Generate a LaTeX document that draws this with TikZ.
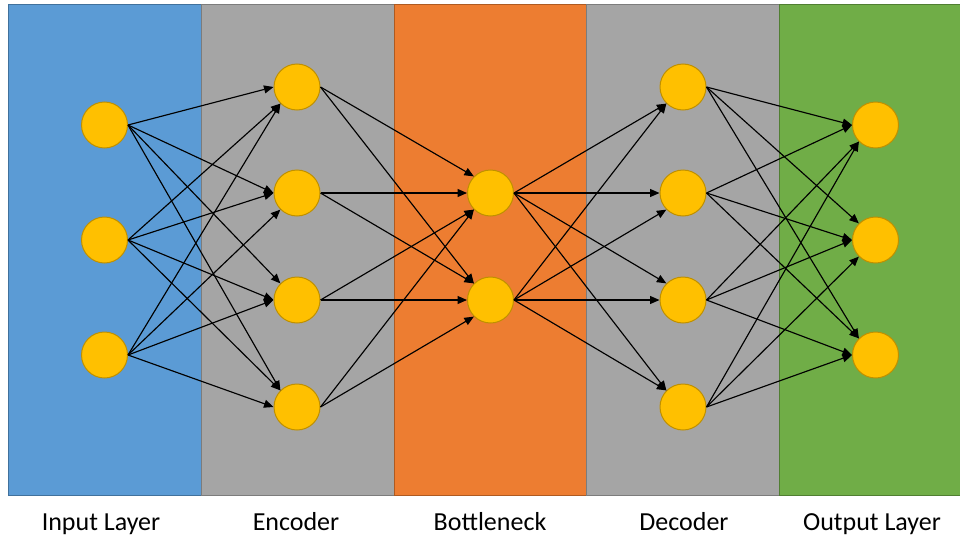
\documentclass[tikz,border=0pt]{standalone}
\usepackage{fontspec}
\setmainfont{Carlito}
\usetikzlibrary{arrows.meta}

\definecolor{inblue}{HTML}{5B9BD5}
\definecolor{inblueline}{HTML}{41719C}
\definecolor{midgray}{HTML}{A5A5A5}
\definecolor{midgrayline}{HTML}{7C7C7C}
\definecolor{neckorange}{HTML}{ED7D31}
\definecolor{neckorangeline}{HTML}{AE5A21}
\definecolor{outgreen}{HTML}{70AD47}
\definecolor{outgreenline}{HTML}{507E32}
\definecolor{neuronfill}{HTML}{FFC000}
\definecolor{neuronline}{HTML}{BF9000}

\tikzset{
  band/.style={line width=1pt},
  neuron/.style={circle, minimum size=46pt, inner sep=0pt, fill=neuronfill,
                 draw=neuronline, line width=1pt},
  link/.style={line width=1.15pt, -{Triangle[length=9.5pt,width=8pt]}},
  caption/.style={anchor=base, font=\fontsize{26}{31}\selectfont, inner sep=0pt}
}

\begin{document}
\begin{tikzpicture}[x=1pt, y=-1pt]
  \useasboundingbox (0,0) rectangle (960,535);

  % layer bands
  \begin{scope}
    \clip (0,0) rectangle (960,535);
    \draw[band, fill=inblue, draw=inblueline] (8,5) rectangle (201,495);
    \draw[band, fill=midgray, draw=midgrayline] (201,5) rectangle (394,495);
    \draw[band, fill=neckorange, draw=neckorangeline] (394,5) rectangle (586,495);
    \draw[band, fill=midgray, draw=midgrayline] (586,5) rectangle (779,495);
    \draw[band, fill=outgreen, draw=outgreenline] (779,5) rectangle (972,495);
  \end{scope}

  % neurons
  \foreach \k/\y in {1/125, 2/240, 3/355}
    \node[neuron] (in\k) at (104.5,\y) {};
  \foreach \k/\y in {1/87, 2/193, 3/300, 4/407}
    \node[neuron] (en\k) at (297,\y) {};
  \foreach \k/\y in {1/193, 2/300}
    \node[neuron] (bn\k) at (490.5,\y) {};
  \foreach \k/\y in {1/87, 2/193, 3/300, 4/407}
    \node[neuron] (de\k) at (683,\y) {};
  \foreach \k/\y in {1/125, 2/240, 3/355}
    \node[neuron] (out\k) at (875.5,\y) {};

  % connections: from the east point to the nearest west-side point
  \newcommand{\wire}[4]{%
    \pgfmathsetmacro\dy{#4-#2}%
    \ifdim \dy pt>69pt \def\anc{north west}%
    \else\ifdim \dy pt<-69pt \def\anc{south west}%
    \else \def\anc{west}\fi\fi
    \draw[link] (#1.east) -- (#3.\anc);}

  \foreach \a/\ya in {in1/125, in2/240, in3/355}
    \foreach \b/\yb in {en1/87, en2/193, en3/300, en4/407}
      {\wire{\a}{\ya}{\b}{\yb}}
  \foreach \a/\ya in {en1/87, en2/193, en3/300, en4/407}
    \foreach \b/\yb in {bn1/193, bn2/300}
      {\wire{\a}{\ya}{\b}{\yb}}
  \foreach \a/\ya in {bn1/193, bn2/300}
    \foreach \b/\yb in {de1/87, de2/193, de3/300, de4/407}
      {\wire{\a}{\ya}{\b}{\yb}}
  \foreach \a/\ya in {de1/87, de2/193, de3/300, de4/407}
    \foreach \b/\yb in {out1/125, out2/240, out3/355}
      {\wire{\a}{\ya}{\b}{\yb}}

  % captions
  \node[caption] (capin) at (101,530) {Input Layer};
  \node[caption] (capen) at (296,530) {Encoder};
  \node[caption] (capbn) at (490,530) {Bottleneck};
  \node[caption] (capde) at (684,530) {Decoder};
  \node[caption] (capout) at (872,530) {Output Layer};
\end{tikzpicture}
\end{document}
